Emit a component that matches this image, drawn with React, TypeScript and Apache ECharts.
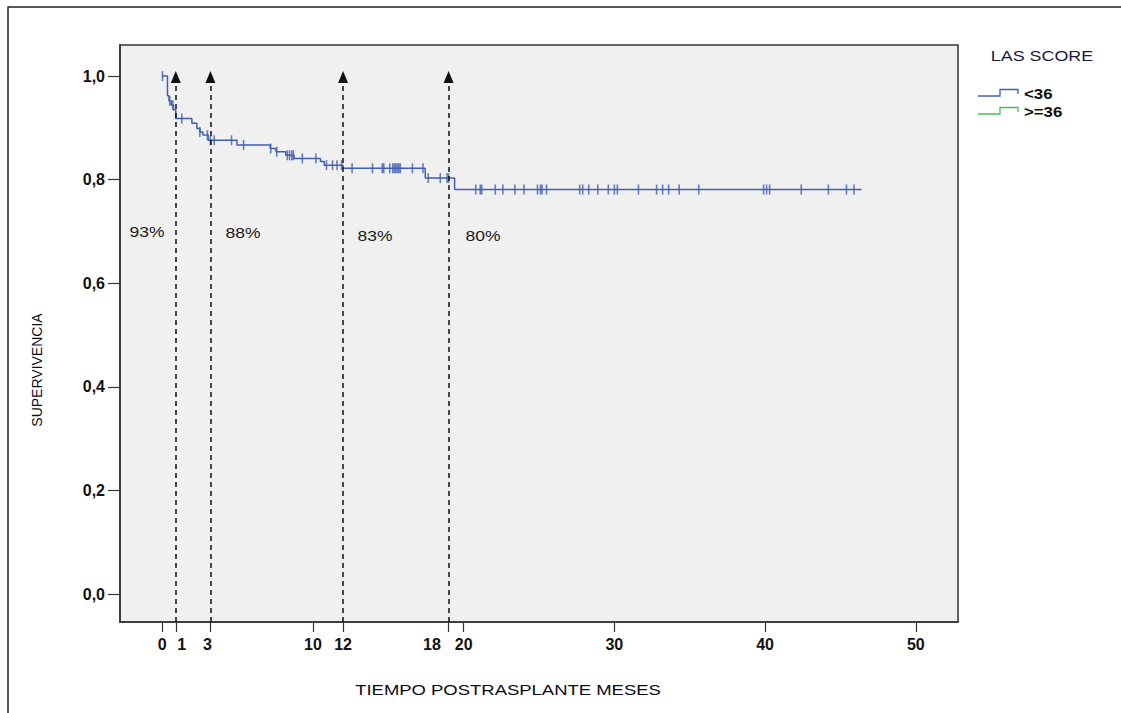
import React, { useEffect, useRef } from "react";
import * as echarts from "echarts";

// Kaplan-Meier step points (time in months, survival after the drop)
const KM_TIMES = [0, 0.35, 0.45, 0.6, 0.75, 0.9, 1.97, 2.3, 2.5, 2.7, 3.05, 4.96, 7.17, 7.55, 8.2, 8.75, 10.5, 10.75, 12.0, 17.45, 19.4, 46.4];
const KM_SURV = [1.0, 0.962, 0.952, 0.944, 0.935, 0.918, 0.909, 0.899, 0.892, 0.886, 0.876, 0.867, 0.86, 0.854, 0.847, 0.841, 0.835, 0.828, 0.822, 0.803, 0.781, 0.781];

// Censored observations (months)
const CENSOR_TIMES = [
  0.02, 0.5, 0.7, 1.3, 2.5, 3.0, 3.2, 3.45, 4.6, 5.4, 7.2, 7.6, 8.3, 8.45, 8.6, 8.7, 9.3, 10.2, 10.9, 11.3, 11.6, 11.9,
  12.6, 13.95, 14.6, 14.7, 15.1, 15.3, 15.4, 15.5, 15.6, 15.7, 15.8, 16.6, 17.3, 17.65, 18.45, 18.9, 19.0, 20.8, 21.1,
  21.2, 22.1, 22.6, 23.4, 24.0, 24.9, 25.1, 25.2, 25.5, 27.7, 27.9, 28.3, 28.9, 29.6, 30.0, 30.2, 31.6, 32.8, 33.2,
  33.6, 34.3, 35.6, 39.9, 40.1, 40.3, 42.4, 44.2, 45.4, 45.9,
];

// Reference arrows (months)
const ARROW_TIMES = [0.9, 3.2, 12, 19];
const PERCENT_LABELS = ["93%", "88%", "83%", "80%"];

const X_TICKS = [0, 0.9, 3.2, 10, 12, 19, 20, 30, 40, 50];
const X_LABELS = [0, 1.3, 3, 10, 12, 17.9, 20, 30, 40, 50];
const Y_TICKS = [0, 0.2, 0.4, 0.6, 0.8, 1.0];

const LEGEND_TITLE = "LAS SCORE";
const SERIES_NAMES = ["<36", ">=36"];
const SERIES_COLORS = ["#3f5fb5", "#45bf55"];

const Y_MIN = -0.054;
const Y_MAX = 1.06;

function survAt(t: number): number {
  let s = KM_SURV[0];
  for (let i = 0; i < KM_TIMES.length; i++) {
    if (KM_TIMES[i] <= t) s = KM_SURV[i];
  }
  return s;
}

const FONT = "Liberation Sans, Arial, sans-serif";

export default function App() {
  const ref = useRef<HTMLDivElement>(null);

  useEffect(() => {
    document.body.style.margin = "0";
    const chart = echarts.init(ref.current!, null, { renderer: "svg" });

    const percentPos = [
      [147, 232],
      [243, 233],
      [375, 236],
      [483, 236],
    ];

    const option: any = {
      animation: false,
      backgroundColor: "#ffffff",
      grid: {
        left: 120,
        top: 45,
        right: 163,
        bottom: 91,
        show: true,
        backgroundColor: "#f0f0f0",
        borderColor: "#333",
        borderWidth: 1.5,
      },
      xAxis: {
        type: "value",
        min: -2.8,
        max: 52.8,
        splitLine: { show: false },
        axisLine: { show: true, onZero: false, lineStyle: { color: "#333", width: 1.5 } },
        axisTick: { show: true, length: 10, lineStyle: { color: "#333", width: 1.2 }, customValues: X_TICKS },
        axisLabel: {
          customValues: X_LABELS,
          formatter: (v: number) => String(Math.round(v)),
          fontSize: 16,
          fontWeight: "bold",
          color: "#111",
          fontFamily: FONT,
          margin: 14,
        },
      },
      yAxis: {
        type: "value",
        min: Y_MIN,
        max: Y_MAX,
        splitLine: { show: false },
        axisLine: { show: true, onZero: false, lineStyle: { color: "#333", width: 1.5 } },
        axisTick: { show: true, length: 12, lineStyle: { color: "#333", width: 1.2 }, customValues: Y_TICKS },
        axisLabel: {
          customValues: Y_TICKS,
          formatter: (v: number) => v.toFixed(1).replace(".", ","),
          fontSize: 16,
          fontWeight: "bold",
          color: "#111",
          fontFamily: FONT,
          margin: 15,
        },
      },
      series: [
        {
          name: SERIES_NAMES[0],
          type: "line",
          step: "end",
          showSymbol: false,
          data: KM_TIMES.map((t, i) => [t, KM_SURV[i]]),
          lineStyle: { color: SERIES_COLORS[0], width: 1.5 },
          itemStyle: { color: SERIES_COLORS[0] },
          z: 3,
          markLine: {
            silent: true,
            symbol: ["none", "triangle"],
            symbolSize: [10, 12],
            label: { show: false },
            lineStyle: { type: [5, 4], color: "#111", width: 1.5 },
            itemStyle: { color: "#111" },
            data: ARROW_TIMES.map((t) => [{ coord: [t, Y_MIN] }, { coord: [t, 0.998] }]),
          },
        },
        {
          name: SERIES_NAMES[0] + " censored",
          type: "scatter",
          symbol: "rect",
          symbolSize: [1.6, 10],
          data: CENSOR_TIMES.map((t) => [t, survAt(t)]),
          itemStyle: { color: SERIES_COLORS[0] },
          z: 4,
        },
      ],
      graphic: [
        {
          type: "rect",
          shape: { x: 8, y: 7, width: 1200, height: 800 },
          style: { fill: "none", stroke: "#222", lineWidth: 1.5 },
          silent: true,
          z: -10,
        },
        {
          type: "text",
          x: 508,
          y: 690,
          scaleX: 1.32,
          style: {
            text: "TIEMPO POSTRASPLANTE MESES",
            fontSize: 14,
            fontFamily: FONT,
            fill: "#0d0d1a",
            align: "center",
            verticalAlign: "middle",
          },
        },
        {
          type: "text",
          x: 37,
          y: 370,
          rotation: Math.PI / 2,
          style: {
            text: "SUPERVIVENCIA",
            fontSize: 14,
            fontFamily: FONT,
            fill: "#0d0d1a",
            align: "center",
            verticalAlign: "middle",
          },
        },
        ...PERCENT_LABELS.map((txt, i) => ({
          type: "text",
          x: percentPos[i][0],
          y: percentPos[i][1],
          scaleX: 1.25,
          style: {
            text: txt,
            fontSize: 14,
            fontFamily: FONT,
            fill: "#1a1a1a",
            align: "center",
            verticalAlign: "middle",
          },
        })),
        {
          type: "text",
          x: 1042,
          y: 56,
          scaleX: 1.28,
          style: {
            text: LEGEND_TITLE,
            fontSize: 14,
            fontFamily: FONT,
            fill: "#1a1a40",
            align: "center",
            verticalAlign: "middle",
          },
        },
        ...SERIES_NAMES.map((name, i) => {
          const base = i === 0 ? 96 : 114;
          return {
            type: "group",
            children: [
              {
                type: "polyline",
                shape: {
                  points: [
                    [978, base],
                    [1000, base],
                    [1000, base - 6.5],
                    [1018, base - 6.5],
                    [1018, base - 2],
                  ],
                },
                style: { stroke: SERIES_COLORS[i], lineWidth: 1.3, fill: "none" },
              },
              {
                type: "text",
                x: 1024,
                y: base - 1.5,
                scaleX: 1.2,
                style: {
                  text: name,
                  fontSize: 14,
                  fontWeight: "bold",
                  fontFamily: FONT,
                  fill: "#111",
                  align: "left",
                  verticalAlign: "middle",
                },
              },
            ],
          };
        }),
      ],
    };

    chart.setOption(option);
    return () => chart.dispose();
  }, []);

  return <div ref={ref} style={{ position: "absolute", left: 0, top: 0, width: 1121, height: 713 }} />;
}
